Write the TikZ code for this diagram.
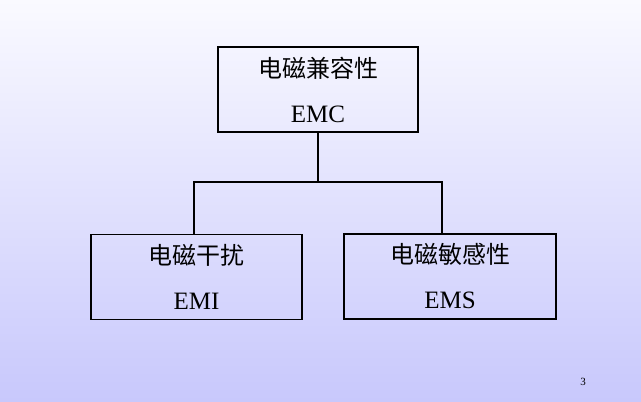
\documentclass[tikz,border=0pt]{standalone}
\usepackage{fontspec}
\setmainfont{Liberation Serif}
\newfontfamily\cjk{Noto Sans CJK SC}
\definecolor{bgtop}{RGB}{250,250,255}
\definecolor{bgbottom}{RGB}{200,200,252}

\begin{document}
\begin{tikzpicture}[x=1pt,y=1pt,
  box/.style={draw, line width=1.4pt, align=center, inner sep=0pt,
    font=\fontsize{25}{45}\selectfont}]
\useasboundingbox (0,0) rectangle (641,402);
\shade[top color=bgtop, bottom color=bgbottom] (0,0) rectangle (641,402);
\node[box, minimum width=200, minimum height=85] (emc) at (318,312.5) {{\cjk\fontsize{24}{45}\selectfont 电磁兼容性}\\EMC};
\node[box, minimum width=211, minimum height=85] (emi) at (196.5,125) {{\cjk\fontsize{24}{45}\selectfont 电磁干扰}\\EMI};
\node[box, minimum width=212, minimum height=85] (ems) at (450,125.5) {{\cjk\fontsize{24}{45}\selectfont 电磁敏感性}\\EMS};
\coordinate (busL) at (194,220);
\coordinate (busR) at (442,220);
\draw[line width=1.4pt] (emc.south) -- (emc.south |- busL);
\draw[line width=1.4pt] (emi.north -| busL) -- (busL) -- (busR) -- (ems.north -| busR);
\node[font=\fontsize{11}{12}\selectfont] (page) at (583,20) {3};
\end{tikzpicture}
\end{document}
